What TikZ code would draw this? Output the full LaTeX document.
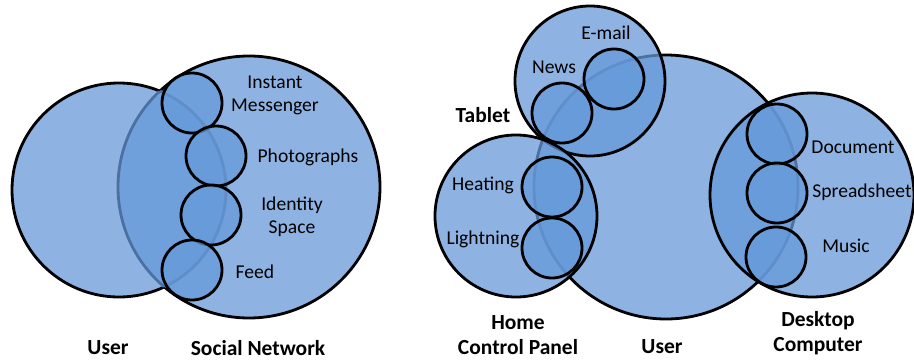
\documentclass[tikz,border=0pt]{standalone}
\usepackage{fontspec}
\setmainfont{Carlito}
\usepackage{tikz}

\definecolor{venn}{RGB}{102,153,217}
\definecolor{dimline}{RGB}{75,113,160}

\tikzset{
  bubble/.style={fill=venn, fill opacity=0.74},
  rim/.style={draw=black, line width=2.8pt},
  dimrim/.style={draw=dimline, line width=2.8pt},
  tag/.style={font=\fontsize{19.6}{23}\selectfont, align=center, inner sep=0pt},
  title/.style={font=\fontsize{21.5}{24.5}\selectfont\bfseries, align=center, inner sep=0pt}
}

\begin{document}
\begin{tikzpicture}[x=1pt, y=-1pt]
\useasboundingbox (0,0) rectangle (914,362);

% Left: User and Social Network
\coordinate (userA) at (119,190);
\coordinate (social) at (249,187);
\fill[bubble] (userA) circle (107);
\fill[bubble] (social) circle (131);
\begin{scope}[even odd rule]
  \clip (0,0) rectangle (914,362) (social) circle (131);
  \draw[rim] (userA) circle (107);
\end{scope}
\begin{scope}[even odd rule]
  \clip (0,0) rectangle (914,362) (userA) circle (107);
  \draw[rim] (social) circle (131);
\end{scope}
\begin{scope}
  \clip (social) circle (131);
  \draw[dimrim] (userA) circle (107);
\end{scope}
\begin{scope}
  \clip (userA) circle (107);
  \draw[dimrim] (social) circle (131);
\end{scope}

% social network services
\foreach \p in {{192,103}, {216,156}, {211,215}, {192,270}}
  \draw[bubble, rim] (\p) circle (30);

\node[tag] (messenger) at (275,95) {Instant\\Messenger};
\node[tag] (photos) at (308,157) {Photographs};
\node[tag] (identity) at (292,217) {Identity\\Space};
\node[tag] (feed) at (255,272) {Feed};
\node[title] (userAlbl) at (108,348) {User};
\node[title] (sociallbl) at (258,348) {Social Network};

% Right: User and devices
\coordinate (userB) at (666,187);
\coordinate (tablet) at (590,81);
\coordinate (home) at (516,216);
\coordinate (desktop) at (812,195);
\draw[bubble, rim] (userB) circle (132);
\draw[bubble, rim] (tablet) circle (75);
\draw[bubble, rim] (home) circle (81);
\draw[bubble, rim] (desktop) circle (102);

% device services
\foreach \p in {{562,113}, {614,79}, {552,187}, {552,248}, {777,134}, {777,193}, {776,257}}
  \draw[bubble, rim] (\p) circle (30);

\node[tag] (email) at (606,33) {E-mail};
\node[tag] (news) at (554,67) {News};
\node[tag] (heating) at (483,185) {Heating};
\node[tag] (light) at (483,239) {Lightning};
\node[tag] (document) at (853,147) {Document};
\node[tag] (sheet) at (862,192) {Spreadsheet};
\node[tag] (music) at (846,246) {Music};
\node[title] (tabletlbl) at (483,115) {Tablet};
\node[title] (homelbl) at (518,335) {Home\\Control Panel};
\node[title] (userBlbl) at (662,347) {User};
\node[title] (desktoplbl) at (818,333) {Desktop\\Computer};
\end{tikzpicture}
\end{document}
